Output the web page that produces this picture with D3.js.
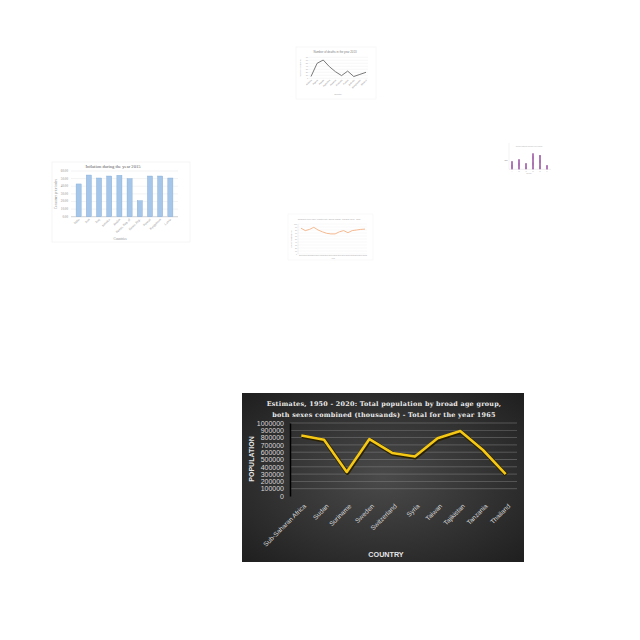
<!DOCTYPE html>
<html><head><meta charset="utf-8">
<script src="https://cdn.jsdelivr.net/npm/d3@7/dist/d3.min.js"></script>
<style>body{margin:0;background:#fff}svg{display:block}</style>
</head><body>
<svg id="c" width="640" height="640"></svg>
<script>
// ---- main chart data ----
const countries = ["Sub-Saharan Africa","Sudan","Suriname","Sweden","Switzerland","Syria","Taiwan","Tajikistan","Tanzania","Thailand"];
const population = [830000,770000,330000,780000,590000,540000,790000,890000,630000,300000];
const popTicks = [0,100000,200000,300000,400000,500000,600000,700000,800000,900000,1000000];
const mainTitle = ["Estimates, 1950 - 2020: Total population by broad age group,","both sexes combined (thousands) - Total for the year 1965"];

// ---- small bar chart (inflation) ----
const inflCountries = ["India","Iran","Iraq","Jamaica","Jordan","Kenya, Rep. of","Korea, Rep.","Kuwait","Kyrgyzstan","Latvia"];
const inflValues = [43,54.7,50.8,53.4,54.3,49.9,21,53.4,53.4,50.8];
const inflTicks = [0,10,20,30,40,50,60];

// ---- small line chart (deaths) ----
const deathCountries = ["Albania","Algeria","Angola","Argentina","Armenia","Australia","Austria","Bahrain","Bangladesh","Belarus"];
const deathValues = [6,50,61,39,22,9,24,6,13,20];
const deathTicks = [0,10,20,30,40,50,60,70];

// ---- small orange line chart ----
const orangeYears = ["2000","2001","2002","2003","2004","2005","2006","2007","2008","2009","2010","2011","2012","2013","2014","2015"];
const orangeValues = [86,78,82,89,80,74,69,67,67,74,78,71,78,80,82,83];
const orangeTicks = [0,10,20,30,40,50,60,70,80,90,100];

// ---- small purple bar chart ----
const purpleCats = ["A","B","C","D","E","F"];
const purpleValues = [24,30,18,48,43,12];

const svg = d3.select("#c");
const defs = svg.append("defs");

/* ===== MAIN CHART ===== */
const rg = defs.append("radialGradient").attr("id","bg").attr("cx","50%").attr("cy","50%").attr("r","75%");
rg.append("stop").attr("offset","0%").attr("stop-color","#4a4a4a");
rg.append("stop").attr("offset","100%").attr("stop-color","#1c1c1c");

const M = {x0:242,y0:393,x1:524,y1:562};
const main = svg.append("g");
main.append("rect").attr("x",M.x0).attr("y",M.y0).attr("width",M.x1-M.x0).attr("height",M.y1-M.y0).attr("fill","url(#bg)");

const px = d3.scalePoint().domain(countries).range([290,517]).padding(0.5);
const py = d3.scaleLinear().domain([0,1000000]).range([496,423]);

main.append("g").selectAll("line").data(popTicks.slice(1)).join("line")
  .attr("x1",290).attr("x2",517).attr("y1",d=>py(d)).attr("y2",d=>py(d))
  .attr("stroke","#8a8a8a").attr("stroke-width",0.6).attr("opacity",0.8);

const yAx = main.append("g").attr("transform","translate(290,0)")
  .call(d3.axisLeft(py).tickValues(popTicks).tickFormat(d3.format("d")).tickSize(0).tickPadding(6));
yAx.select(".domain").attr("stroke","#000").attr("stroke-width",1.5);
yAx.selectAll("text").attr("fill","#d9d9d9").style("font-family","Liberation Sans, Arial, sans-serif").style("font-size","7px");

const xAx = main.append("g").attr("transform","translate(0,496)")
  .call(d3.axisBottom(px).tickSize(0).tickPadding(0));
xAx.select(".domain").remove();
xAx.selectAll("text").attr("fill","#d9d9d9").style("font-family","Liberation Sans, Arial, sans-serif").style("font-size","6.6px")
  .attr("text-anchor","end").attr("transform","translate(3,9) rotate(-45)").attr("dy","0.35em").attr("y",0);

const line = d3.line().x((d,i)=>px(countries[i])).y(d=>py(d));
main.append("path").datum(population).attr("d",line).attr("fill","none")
  .attr("stroke","#2a2100").attr("stroke-width",4.2).attr("stroke-linejoin","round").attr("transform","translate(0.6,0.8)");
main.append("path").datum(population).attr("d",line).attr("fill","none")
  .attr("stroke","#f5c816").attr("stroke-width",2.6).attr("stroke-linejoin","round");

main.selectAll("text.tt").data(mainTitle).join("text").attr("class","tt")
  .attr("x",384).attr("y",(d,i)=>406+i*10.5).attr("text-anchor","middle")
  .attr("fill","#ededed").style("font-family","DejaVu Serif, serif").style("font-weight","bold")
  .style("font-size","6.4px").style("letter-spacing","0.25px").text(d=>d);

main.append("text").attr("transform","translate(253.5,459) rotate(-90)").attr("text-anchor","middle")
  .attr("fill","#e6e6e6").style("font-family","Liberation Sans, Arial, sans-serif").style("font-weight","bold").style("font-size","7px").text("POPULATION");
main.append("text").attr("x",386).attr("y",557).attr("text-anchor","middle")
  .attr("fill","#e6e6e6").style("font-family","Liberation Sans, Arial, sans-serif").style("font-weight","bold").style("font-size","7.2px").text("COUNTRY");

/* ===== SMALL BAR CHART ===== */
const b = svg.append("g");
b.append("rect").attr("x",52).attr("y",162).attr("width",138).attr("height",80).attr("fill","#fff").attr("stroke","#ececec").attr("stroke-width",0.5);
const bx = d3.scaleBand().domain(inflCountries).range([71,178]).padding(0.5);
const by = d3.scaleLinear().domain([0,60]).range([216.7,171]);
b.append("g").selectAll("line").data(inflTicks).join("line").attr("x1",71).attr("x2",178)
  .attr("y1",d=>by(d)).attr("y2",d=>by(d)).attr("stroke","#e6e6e6").attr("stroke-width",0.5);
b.append("line").attr("x1",71).attr("x2",178).attr("y1",by(0)).attr("y2",by(0)).attr("stroke","#bfbfbf").attr("stroke-width",0.6);
b.append("g").selectAll("rect").data(inflValues).join("rect")
  .attr("x",(d,i)=>bx(inflCountries[i])).attr("width",bx.bandwidth())
  .attr("y",d=>by(d)).attr("height",d=>by(0)-by(d)).attr("fill","#a5c6e8").attr("stroke","#7ea9d8").attr("stroke-width",0.4);
b.append("g").selectAll("text").data(inflTicks).join("text").attr("x",68).attr("y",d=>by(d)+1).attr("text-anchor","end")
  .attr("fill","#8c8c8c").style("font-family","Liberation Serif, serif").style("font-size","3.2px").text(d=>d.toFixed(2));
b.append("g").selectAll("text").data(inflCountries).join("text")
  .attr("transform",d=>`translate(${bx(d)+bx.bandwidth()/2+1},${by(0)+3}) rotate(-45)`).attr("text-anchor","end")
  .attr("fill","#8c8c8c").style("font-family","Liberation Serif, serif").style("font-size","3.2px").text(d=>d);
b.append("text").attr("x",113).attr("y",168).attr("text-anchor","middle").attr("fill","#595959")
  .style("font-family","Liberation Serif, serif").style("font-size","4.6px").text("Inflation during the year 2015");
b.append("text").attr("transform","translate(57,194) rotate(-90)").attr("text-anchor","middle").attr("fill","#8c8c8c")
  .style("font-family","Liberation Serif, serif").style("font-size","3.4px").text("Consumer price index");
b.append("text").attr("x",120).attr("y",239.5).attr("text-anchor","middle").attr("fill","#8c8c8c")
  .style("font-family","Liberation Serif, serif").style("font-size","3.4px").text("Countries");

/* ===== SMALL LINE CHART (deaths) ===== */
const dch = svg.append("g");
dch.append("rect").attr("x",296).attr("y",47).attr("width",80).attr("height",52).attr("fill","#fff").attr("stroke","#f0f0f0").attr("stroke-width",0.5);
const dx = d3.scalePoint().domain(deathCountries).range([311,366]);
const dy = d3.scaleLinear().domain([0,70]).range([78.3,57.3]);
dch.append("g").selectAll("line").data(deathTicks).join("line").attr("x1",309).attr("x2",368)
  .attr("y1",d=>dy(d)).attr("y2",d=>dy(d)).attr("stroke","#ececec").attr("stroke-width",0.4);
dch.append("g").selectAll("text").data(deathTicks).join("text").attr("x",308).attr("y",d=>dy(d)+0.6).attr("text-anchor","end")
  .attr("fill","#a0a0a0").style("font-family","Liberation Sans, sans-serif").style("font-size","2px").text(d=>d);
dch.append("path").datum(deathValues).attr("fill","none").attr("stroke","#6a6a6a").attr("stroke-width",0.9)
  .attr("d",d3.line().x((d,i)=>dx(deathCountries[i])).y(d=>dy(d)));
dch.append("g").selectAll("text").data(deathCountries).join("text")
  .attr("transform",d=>`translate(${dx(d)+1},${dy(0)+2}) rotate(-45)`).attr("text-anchor","end")
  .attr("fill","#909090").style("font-family","Liberation Sans, sans-serif").style("font-size","2.2px").text(d=>d);
dch.append("text").attr("x",335).attr("y",52.8).attr("text-anchor","middle").attr("fill","#808080")
  .style("font-family","Liberation Sans, sans-serif").style("font-size","2.8px").text("Number of deaths in the year 2013");
dch.append("text").attr("transform","translate(301,68) rotate(-90)").attr("text-anchor","middle").attr("fill","#a0a0a0")
  .style("font-family","Liberation Sans, sans-serif").style("font-size","2.2px").text("Number of deaths");
dch.append("text").attr("x",338).attr("y",95).attr("text-anchor","middle").attr("fill","#a0a0a0")
  .style("font-family","Liberation Sans, sans-serif").style("font-size","2.2px").text("Country");

/* ===== SMALL ORANGE LINE CHART ===== */
const o = svg.append("g");
o.append("rect").attr("x",288).attr("y",214).attr("width",85).attr("height",46).attr("fill","#fff").attr("stroke","#f3f3f3").attr("stroke-width",0.5);
const ox = d3.scalePoint().domain(orangeYears).range([301,365]);
const oy = d3.scaleLinear().domain([0,100]).range([254,224]);
o.append("g").selectAll("line").data(orangeTicks).join("line").attr("x1",298).attr("x2",367)
  .attr("y1",d=>oy(d)).attr("y2",d=>oy(d)).attr("stroke","#efefef").attr("stroke-width",0.4);
o.append("line").attr("x1",298).attr("x2",298).attr("y1",224).attr("y2",254).attr("stroke","#d9d9d9").attr("stroke-width",0.4);
o.append("g").selectAll("text").data(orangeTicks).join("text").attr("x",297).attr("y",d=>oy(d)+0.6).attr("text-anchor","end")
  .attr("fill","#a6a6a6").style("font-family","Liberation Sans, sans-serif").style("font-size","1.8px").text(d=>d);
o.append("path").datum(orangeValues).attr("fill","none").attr("stroke","#f4b183").attr("stroke-width",0.9)
  .attr("d",d3.line().x((d,i)=>ox(orangeYears[i])).y(d=>oy(d)));
o.append("g").selectAll("text").data(orangeYears).join("text").attr("x",d=>ox(d)).attr("y",256).attr("text-anchor","middle")
  .attr("fill","#a6a6a6").style("font-family","Liberation Sans, sans-serif").style("font-size","1.8px").text(d=>d);
o.append("text").attr("x",329).attr("y",219.5).attr("text-anchor","middle").attr("fill","#a6a6a6")
  .style("font-family","Liberation Sans, sans-serif").style("font-size","1.9px").text("Consumer price index: Inflation rate, annual change, Pakistan, 2000 - 2015");
o.append("text").attr("transform","translate(292,239) rotate(-90)").attr("text-anchor","middle").attr("fill","#a6a6a6")
  .style("font-family","Liberation Sans, sans-serif").style("font-size","1.8px").text("Consumer price index");
o.append("text").attr("x",333).attr("y",258.5).attr("text-anchor","middle").attr("fill","#a6a6a6")
  .style("font-family","Liberation Sans, sans-serif").style("font-size","1.8px").text("Year");

/* ===== SMALL PURPLE CHART ===== */
const p = svg.append("g");
const ppx = d3.scalePoint().domain(purpleCats).range([512,547]);
const ppy = d3.scaleLinear().domain([0,80]).range([169.3,143]);
p.append("line").attr("x1",509).attr("x2",509).attr("y1",143).attr("y2",169.3).attr("stroke","#e0e0e0").attr("stroke-width",0.4);
p.append("line").attr("x1",509).attr("x2",551).attr("y1",169.3).attr("y2",169.3).attr("stroke","#d9d9d9").attr("stroke-width",0.4);
p.append("g").selectAll("rect").data(purpleValues).join("rect")
  .attr("x",(d,i)=>ppx(purpleCats[i])-1).attr("width",2).attr("y",d=>ppy(d)).attr("height",d=>ppy(0)-ppy(d))
  .attr("fill","#c08cc6");
p.append("g").selectAll("line").data(purpleValues).join("line")
  .attr("x1",(d,i)=>ppx(purpleCats[i])).attr("x2",(d,i)=>ppx(purpleCats[i]))
  .attr("y1",d=>ppy(d)).attr("y2",ppy(0)).attr("stroke","#7a3a80").attr("stroke-width",1).attr("stroke-dasharray","0.6,0.6");
p.append("text").attr("x",529).attr("y",146.5).attr("text-anchor","middle").attr("fill","#b0b0b0")
  .style("font-family","Liberation Sans, sans-serif").style("font-size","1.8px").text("Gross national income per capita");
p.append("text").attr("x",506).attr("y",160.5).attr("text-anchor","middle").attr("fill","#808080")
  .style("font-family","Liberation Sans, sans-serif").style("font-size","2.4px").text("Rs");
p.append("g").selectAll("text").data(purpleCats).join("text").attr("x",d=>ppx(d)).attr("y",172).attr("text-anchor","middle")
  .attr("fill","#b0b0b0").style("font-family","Liberation Sans, sans-serif").style("font-size","1.6px").text(d=>d);
p.append("text").attr("x",529).attr("y",174).attr("text-anchor","middle").attr("fill","#b0b0b0")
  .style("font-family","Liberation Sans, sans-serif").style("font-size","1.6px").text("Country");
</script>
</body></html>
